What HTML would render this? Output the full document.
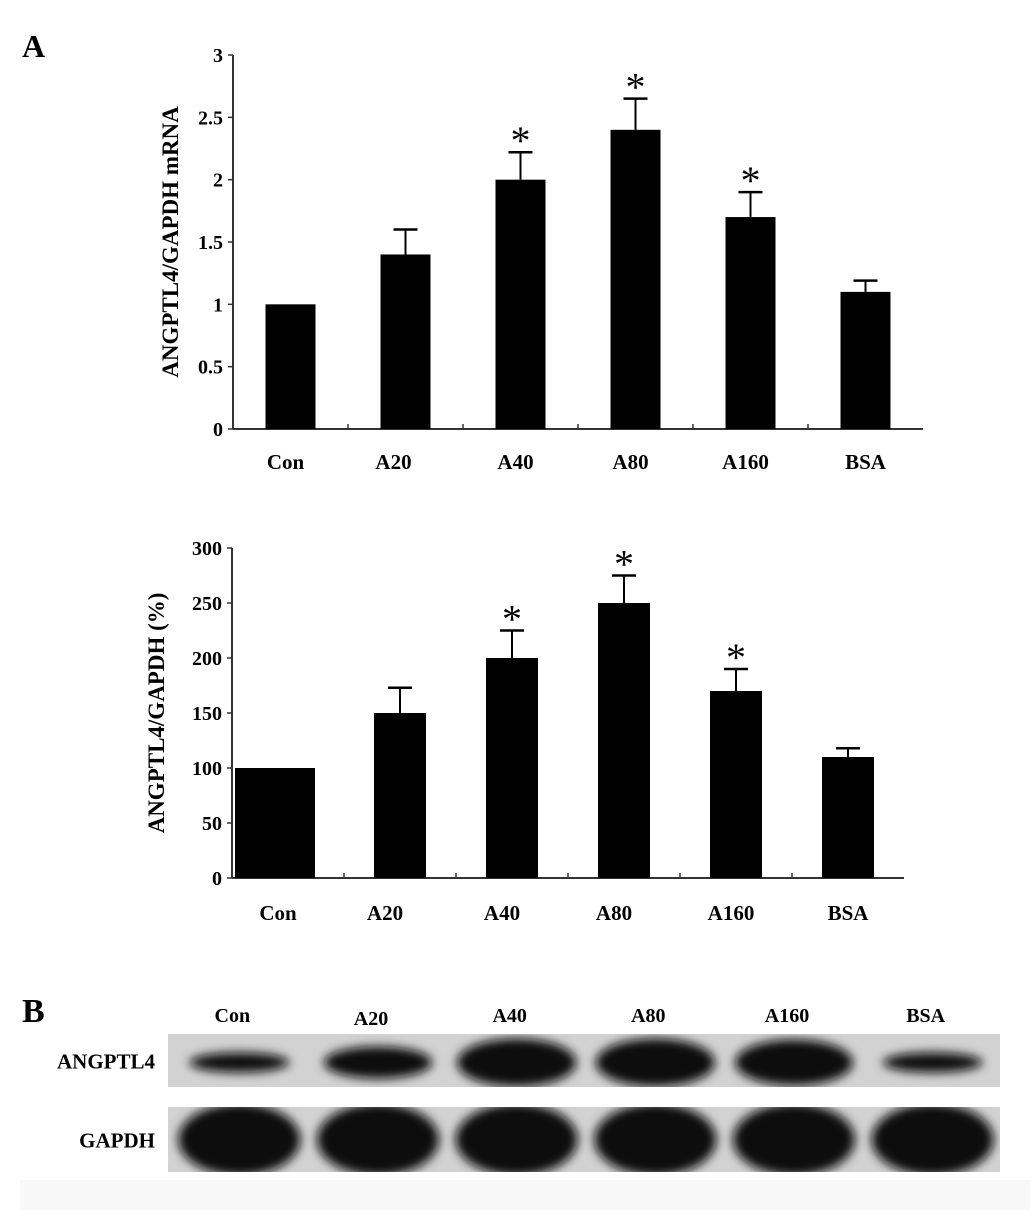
<!DOCTYPE html>
<html><head><meta charset="utf-8"><style>
body{margin:0;background:#fff;}
svg{display:block;font-family:"Liberation Serif",serif;font-weight:bold;}
</style></head><body>
<svg id="fig" width="1033" height="1224" viewBox="0 0 1033 1224">
<defs>
<filter id="blur" x="-30%" y="-60%" width="160%" height="220%"><feGaussianBlur stdDeviation="5"/></filter>
<clipPath id="clipA"><rect x="168" y="1034" width="832" height="53"/></clipPath>
<clipPath id="clipB"><rect x="168" y="1107" width="832" height="65"/></clipPath>
</defs>
<rect width="1033" height="1224" fill="#fff"/>
<rect x="20" y="1180" width="1010" height="30" fill="#f8f8f8"/>
<text x="22" y="57" font-size="32">A</text>
<text x="22" y="1022" font-size="34">B</text>
<g id="chart1"></g>
<g id="chart2"></g>
<g id="blot"></g>
</svg>
<script>
const categories=["Con","A20","A40","A80","A160","BSA"];
const mrnaValues=[1.0,1.4,2.0,2.4,1.7,1.1];
const mrnaErrors=[0,0.2,0.22,0.25,0.2,0.09];
const mrnaSig=[false,false,true,true,true,false];
const mrnaTicks=["0","0.5","1","1.5","2","2.5","3"];
const proteinValues=[100,150,200,250,170,110];
const proteinErrors=[0,23,25,25,20,8];
const proteinSig=[false,false,true,true,true,false];
const proteinTicks=["0","50","100","150","200","250","300"];
const blotTarget=[0.3,0.6,1.0,1.0,0.95,0.3];
const blotLabels=["ANGPTL4","GAPDH"];

const NS="http://www.w3.org/2000/svg";
function mk(parent,tag,attrs,text){const e=document.createElementNS(NS,tag);for(const k in attrs)e.setAttribute(k,attrs[k]);if(text!==undefined)e.textContent=text;parent.appendChild(e);return e;}

function drawChart(g,o){
  const x0=o.x0,y0=o.y0,step=o.step,ymax=o.ymax,h=o.h;
  const y=v=>y0-v/ymax*h;
  const xc=i=>x0+step*(i+0.5);
  let ax=mk(g,'line',{x1:x0,y1:y0,x2:x0,y2:y0-h,stroke:'#333','stroke-width':2});
  
  let bx=mk(g,'line',{x1:x0,y1:y0,x2:x0+step*categories.length,y2:y0,stroke:'#333','stroke-width':2});
  
  o.ticks.forEach((t,i)=>{
    const v=ymax*i/(o.ticks.length-1);
    mk(g,'line',{x1:x0-5,y1:y(v),x2:x0,y2:y(v),stroke:'#333','stroke-width':1.5});
    const tl=mk(g,'text',{x:x0-10,y:y(v)+7,'font-size':o.tickSize,'text-anchor':'end'},t);
    
  });
  for(let i=1;i<categories.length;i++) mk(g,'line',{x1:x0+step*i,y1:y0,x2:x0+step*i,y2:y0-5,stroke:'#333','stroke-width':1.5});
  categories.forEach((c,i)=>{
    const w=(i===0&&o.conWide)?o.conWide:o.bw;
    const left=(i===0&&o.conWide)?x0+3:xc(i)-w/2;
    const cx=left+w/2;
    const b=mk(g,'rect',{x:left,y:y(o.values[i]),width:w,height:y0-y(o.values[i]),fill:'#000'});
    
    if(o.errors[i]>0){
      const top=y(o.values[i]+o.errors[i]);
      mk(g,'line',{x1:cx,y1:y(o.values[i]),x2:cx,y2:top,stroke:'#000','stroke-width':2});
      const eb=mk(g,'line',{x1:cx-12,y1:top,x2:cx+12,y2:top,stroke:'#000','stroke-width':2.5});
      
    }
    if(o.sig[i]){
      const s=mk(g,'text',{x:cx,y:y(o.values[i]+o.errors[i])+2,'font-size':40,'font-weight':'normal','text-anchor':'middle'},'*');
      
    }
    const lab=mk(g,'text',{x:xc(i)+o.labOff[i],y:y0+o.labDy,'font-size':21,'text-anchor':'middle'},c);
    
  });
  const yt=mk(g,'text',{transform:`translate(${o.titleX},${y0-h/2}) rotate(-90)`,'font-size':23,'text-anchor':'middle'},o.title);
  
}
drawChart(document.getElementById('chart1'),{x0:233,y0:429,step:115,ymax:3,h:374,bw:50,values:mrnaValues,errors:mrnaErrors,sig:mrnaSig,ticks:mrnaTicks,tickSize:20,title:"ANGPTL4/GAPDH mRNA",titleX:178,labDy:40,labOff:[-5,-12,-5,-5,-5,0]});
drawChart(document.getElementById('chart2'),{x0:232,y0:878,step:112,ymax:300,h:330,bw:52,conWide:80,values:proteinValues,errors:proteinErrors,sig:proteinSig,ticks:proteinTicks,tickSize:20,title:"ANGPTL4/GAPDH (%)",titleX:164,labDy:42,labOff:[-10,-15,-10,-10,-5,0]});

// blot
const bg=document.getElementById('blot');
const bx0=168,bx1=1000,lanes=categories.length,lw=(bx1-bx0)/lanes;
const rows=[{y:1034,h:53},{y:1107,h:65}];
categories.forEach((c,i)=>{
  const t=mk(bg,'text',{x:bx0+lw*(i+0.5)-5,y:1022+(i===1?3:0),'font-size':20,'text-anchor':'middle'},c);
  
});
rows.forEach((r,ri)=>{
  const rr=mk(bg,'rect',{x:bx0,y:r.y,width:bx1-bx0,height:r.h,fill:'#d2d2d2'});
  
  const l=mk(bg,'text',{x:155,y:r.y+r.h/2+8,'font-size':21,'text-anchor':'end'},blotLabels[ri]);
  
  const cg=mk(bg,'g',{'clip-path':ri===0?'url(#clipA)':'url(#clipB)'});
  categories.forEach((c,i)=>{
    const inten=ri===0?blotTarget[i]:1;
    const rx=ri===0?(lw*0.33+inten*lw*0.1):lw*0.44, ry=ri===0?(4+inten*20):36;
    const e=mk(cg,'ellipse',{cx:bx0+lw*(i+0.5)+2,cy:r.y+r.h/2+(ri===0?2:0),rx:rx,ry:ry,fill:'#0c0c0c',filter:'url(#blur)'});
    
    
  });
});
</script>
</body></html>
